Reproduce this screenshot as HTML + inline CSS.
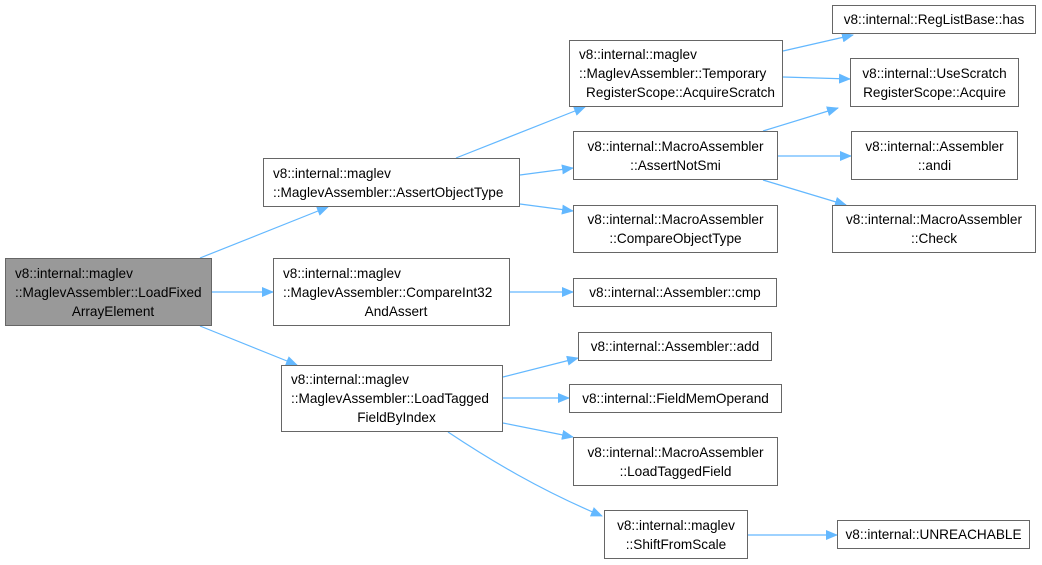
<!DOCTYPE html>
<html><head><meta charset="utf-8"><style>
html,body{margin:0;padding:0;background:#fff;}
body{width:1042px;height:565px;position:relative;overflow:hidden;font-family:"Liberation Sans","DejaVu Sans",sans-serif;}
.n{position:absolute;box-sizing:border-box;border:1px solid #666;background:#fff;font-size:13.6px;line-height:19px;color:#000;display:flex;flex-direction:column;justify-content:center;text-align:center;white-space:nowrap;}
.n span{display:block}
.l{text-align:left;padding-left:9px}
.l span.c{text-align:center}
svg{position:absolute;left:0;top:0}
</style></head><body>
<svg width="1042" height="565">
<defs><marker id="a" markerWidth="12" markerHeight="10" refX="11" refY="5" orient="auto" markerUnits="userSpaceOnUse"><path d="M0,0 L12,5 L0,10 z" fill="#63b8ff"/></marker></defs>
<g stroke="#63b8ff" stroke-width="1.2" fill="none" marker-end="url(#a)">
<line x1="200" y1="258" x2="328" y2="207"/>
<line x1="212" y1="292" x2="273" y2="292"/>
<line x1="200" y1="326" x2="297" y2="365"/>
<line x1="456" y1="158" x2="585" y2="107"/>
<line x1="520" y1="175" x2="573" y2="168"/>
<line x1="520" y1="204" x2="573" y2="211"/>
<line x1="783" y1="51" x2="853" y2="35"/>
<line x1="783" y1="77" x2="850" y2="79"/>
<line x1="763" y1="131" x2="838" y2="108"/>
<line x1="778" y1="156" x2="851" y2="156"/>
<line x1="763" y1="180" x2="846" y2="205"/>
<line x1="510" y1="292" x2="573" y2="292"/>
<line x1="503" y1="377" x2="578" y2="358"/>
<line x1="503" y1="398" x2="569" y2="398"/>
<line x1="503" y1="423" x2="573" y2="437"/>
<path d="M448,432 C490,460 540,490 602,516"/>
<line x1="748" y1="535" x2="837" y2="535"/>
</g>
</svg>
<div class="n l" style="left:5px;top:258px;width:207px;height:68px;background:#999;"><span>v8::internal::maglev</span><span>::MaglevAssembler::LoadFixed</span><span class="c">ArrayElement</span></div>
<div class="n l" style="left:263px;top:158px;width:257px;height:49px;"><span>v8::internal::maglev</span><span>::MaglevAssembler::AssertObjectType</span></div>
<div class="n l" style="left:273px;top:258px;width:237px;height:68px;"><span>v8::internal::maglev</span><span>::MaglevAssembler::CompareInt32</span><span class="c">AndAssert</span></div>
<div class="n l" style="left:281px;top:365px;width:222px;height:67px;"><span>v8::internal::maglev</span><span>::MaglevAssembler::LoadTagged</span><span class="c">FieldByIndex</span></div>
<div class="n l" style="left:569px;top:40px;width:214px;height:67px;"><span>v8::internal::maglev</span><span>::MaglevAssembler::Temporary</span><span class="c">RegisterScope::AcquireScratch</span></div>
<div class="n" style="left:573px;top:131px;width:205px;height:49px;"><span>v8::internal::MacroAssembler</span><span>::AssertNotSmi</span></div>
<div class="n" style="left:573px;top:205px;width:205px;height:48px;"><span>v8::internal::MacroAssembler</span><span>::CompareObjectType</span></div>
<div class="n" style="left:832px;top:5px;width:204px;height:29px;"><span>v8::internal::RegListBase::has</span></div>
<div class="n" style="left:850px;top:58px;width:169px;height:49px;"><span>v8::internal::UseScratch</span><span>RegisterScope::Acquire</span></div>
<div class="n" style="left:851px;top:131px;width:167px;height:49px;"><span>v8::internal::Assembler</span><span>::andi</span></div>
<div class="n" style="left:832px;top:205px;width:204px;height:48px;"><span>v8::internal::MacroAssembler</span><span>::Check</span></div>
<div class="n" style="left:573px;top:278px;width:204px;height:29px;"><span>v8::internal::Assembler::cmp</span></div>
<div class="n" style="left:578px;top:332px;width:194px;height:29px;"><span>v8::internal::Assembler::add</span></div>
<div class="n" style="left:569px;top:384px;width:213px;height:29px;"><span>v8::internal::FieldMemOperand</span></div>
<div class="n" style="left:573px;top:437px;width:205px;height:49px;"><span>v8::internal::MacroAssembler</span><span>::LoadTaggedField</span></div>
<div class="n" style="left:604px;top:510px;width:144px;height:49px;"><span>v8::internal::maglev</span><span>::ShiftFromScale</span></div>
<div class="n" style="left:837px;top:520px;width:193px;height:29px;"><span>v8::internal::UNREACHABLE</span></div>
</body></html>
